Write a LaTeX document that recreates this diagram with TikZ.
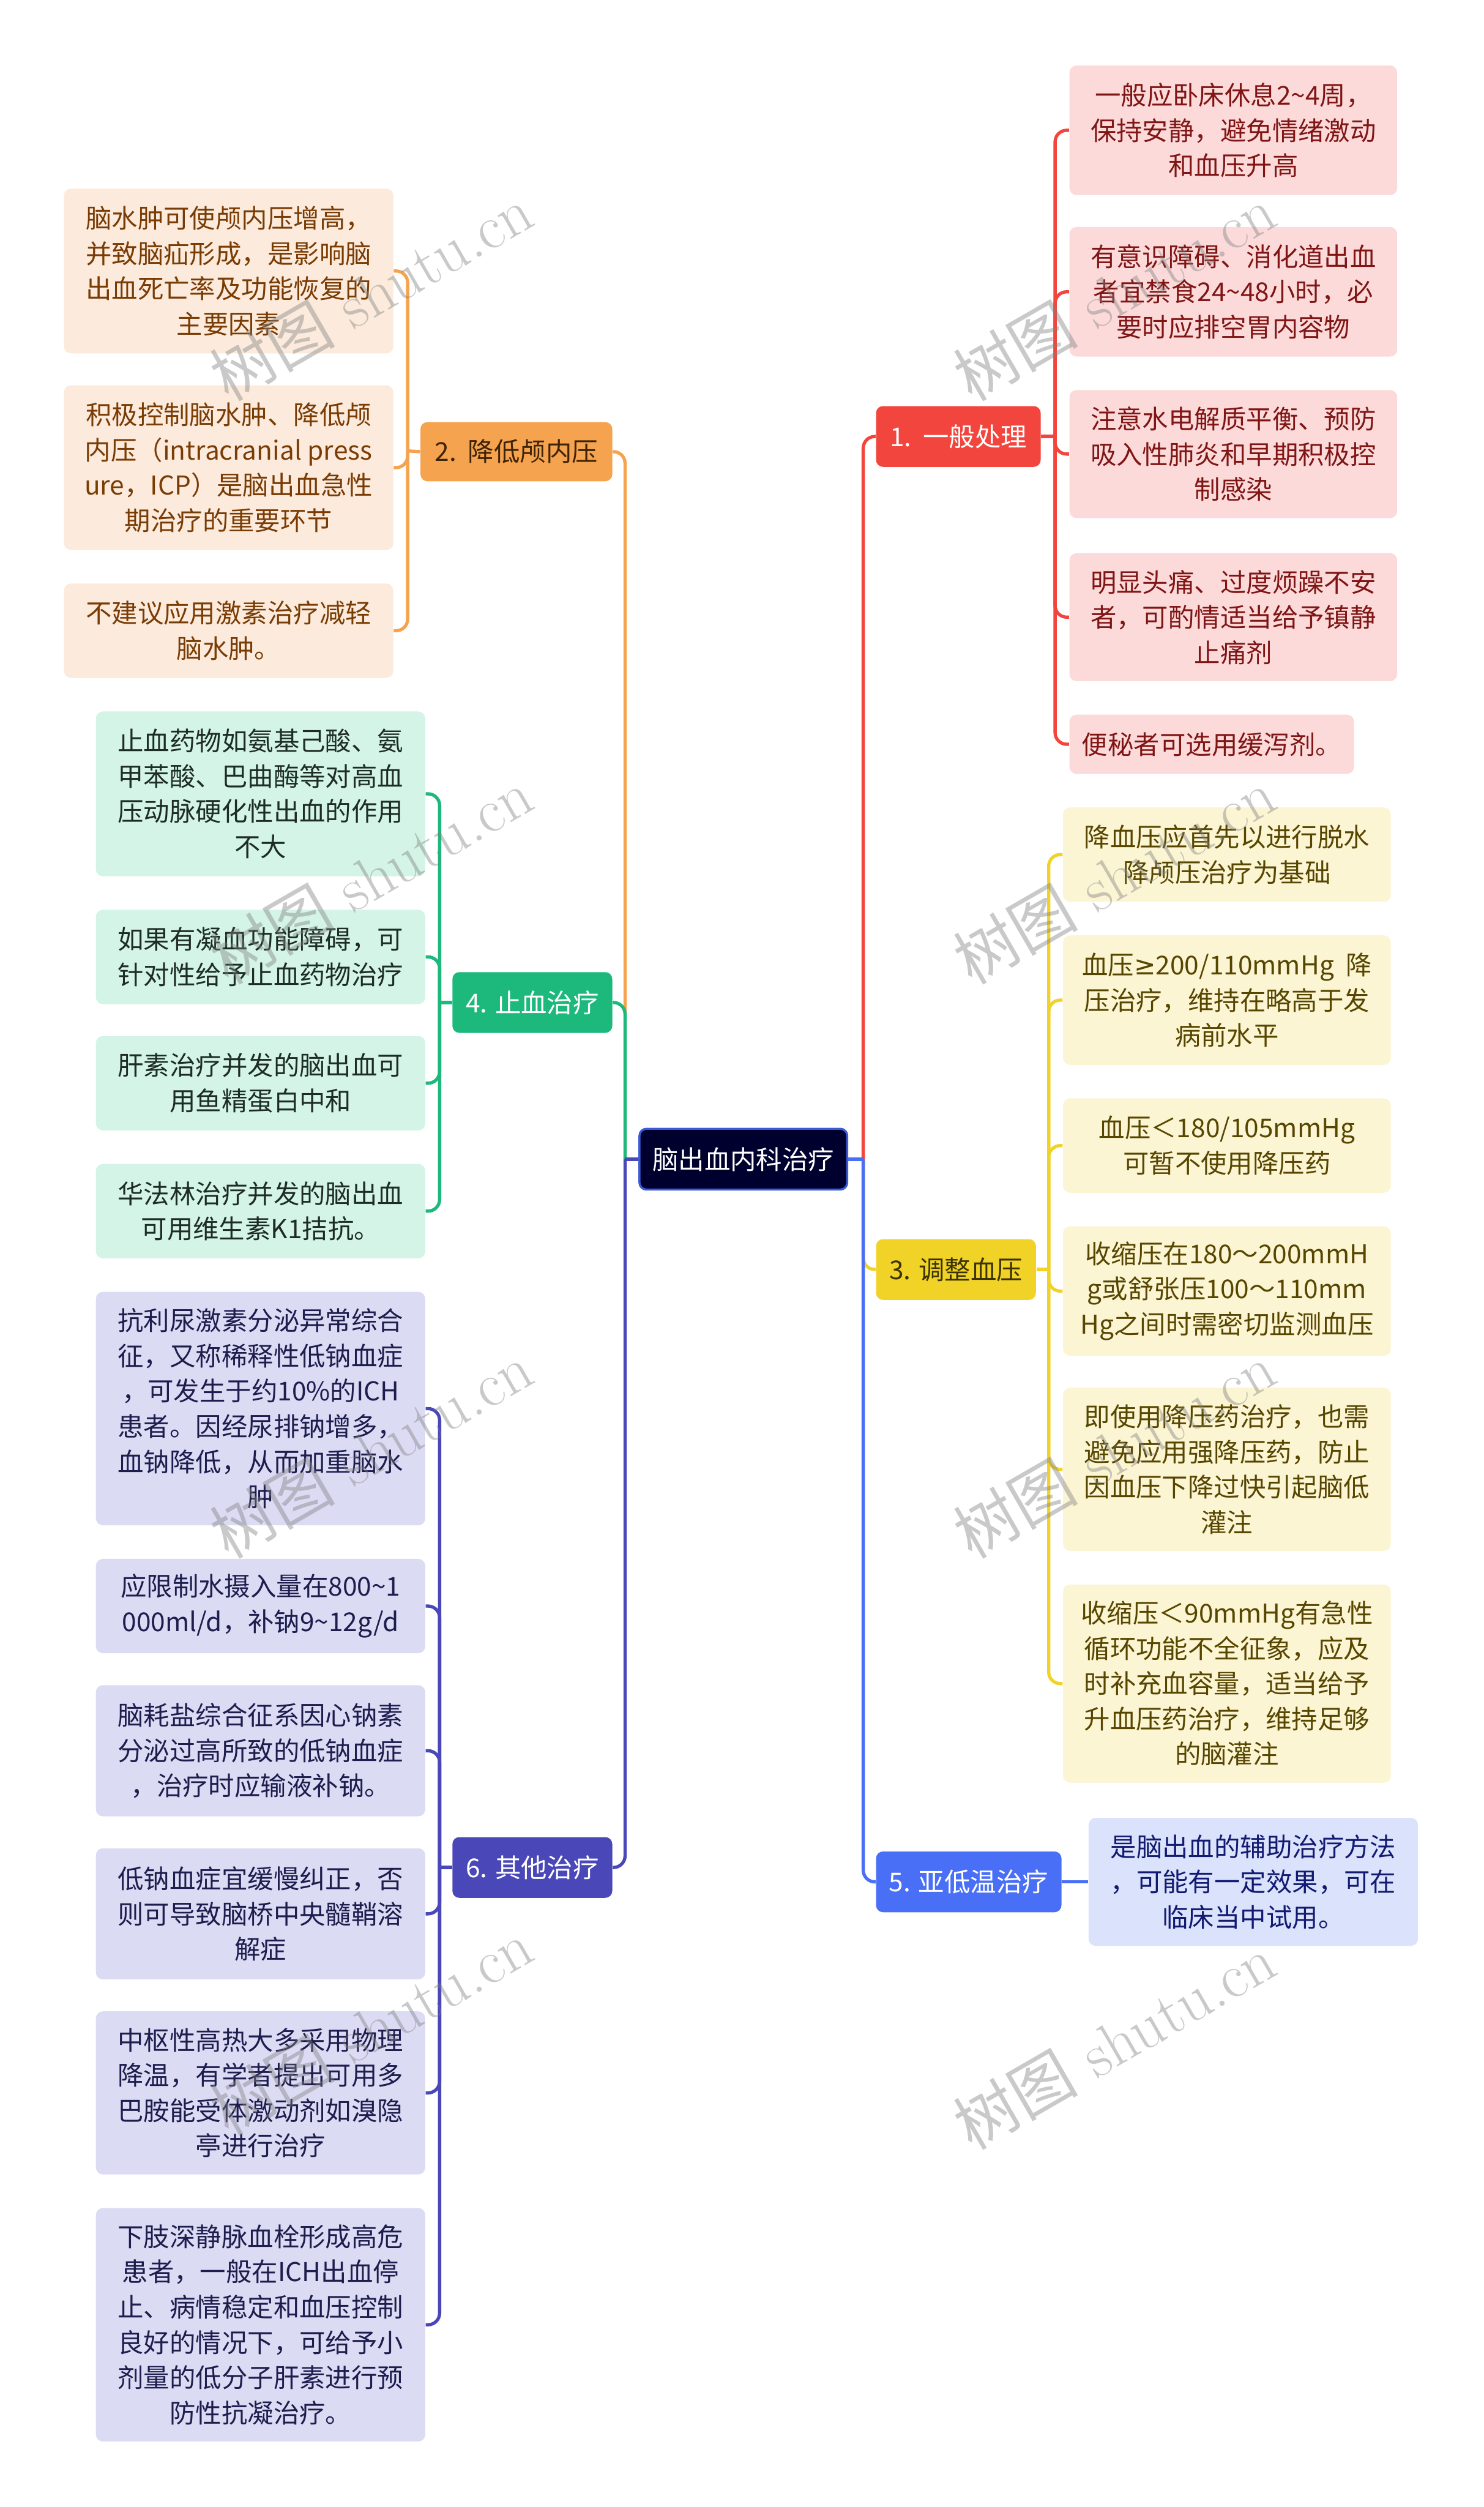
\documentclass[tikz,border=0pt]{standalone}
\usepackage{fontspec}
\newfontfamily\cjk{Noto Sans CJK SC}
\newfontfamily\djv{DejaVu Sans}
\definecolor{rootfill}{HTML}{00002E}
\definecolor{rootline}{HTML}{3A5BD8}
\definecolor{c1}{HTML}{F2453D}\definecolor{c1l}{HTML}{FCDADA}\definecolor{c1t}{HTML}{801515}
\definecolor{c2}{HTML}{F5A34F}\definecolor{c2l}{HTML}{FCEBDC}\definecolor{c2t}{HTML}{7A3C05}\definecolor{c2b}{HTML}{3F2305}
\definecolor{c3}{HTML}{F1D327}\definecolor{c3l}{HTML}{FCF5D3}\definecolor{c3t}{HTML}{574600}\definecolor{c3b}{HTML}{3A3200}
\definecolor{c4}{HTML}{1DB87B}\definecolor{c4l}{HTML}{D3F4E6}\definecolor{c4t}{HTML}{1E2C27}
\definecolor{c5}{HTML}{4A6FF7}\definecolor{c5l}{HTML}{DAE2FC}\definecolor{c5t}{HTML}{121A72}
\definecolor{c6}{HTML}{4A47B8}\definecolor{c6l}{HTML}{DCDBF4}\definecolor{c6t}{HTML}{1D1D4E}
\newcommand\mmbox[7]{%
 \pgfmathsetmacro\mmcx{(#2+#4)/2}%
 \pgfmathsetmacro\mmcy{(#3+#5)/2}%
 \pgfmathsetmacro\mmw{(#4-#2)*0.68965}%
 \pgfmathsetmacro\mmh{(#5-#3)*0.68965}%
 \node[#6, minimum width=\mmw pt, minimum height=\mmh pt] (#1) at (\mmcx,\mmcy) {#7};}
\tikzset{
 nd/.style={font=\cjk\fontsize{11.2}{15.2}\selectfont, align=center, rounded corners=3pt, inner sep=0pt},
 rootbox/.style={nd, fill=rootfill, draw=rootline, line width=0.9pt, text=white},
 br1/.style={nd, fill=c1, text=white},
 br2/.style={nd, fill=c2, text=c2b},
 br3/.style={nd, fill=c3, text=c3b},
 br4/.style={nd, fill=c4, text=white},
 br5/.style={nd, fill=c5, text=white},
 br6/.style={nd, fill=c6, text=white},
 lf1/.style={nd, fill=c1l, text=c1t},
 lf2/.style={nd, fill=c2l, text=c2t},
 lf3/.style={nd, fill=c3l, text=c3t},
 lf4/.style={nd, fill=c4l, text=c4t},
 lf5/.style={nd, fill=c5l, text=c5t},
 lf6/.style={nd, fill=c6l, text=c6t},
 ln1/.style={draw=c1, line width=1.4pt, rounded corners=5pt},
 ln2/.style={draw=c2, line width=1.4pt, rounded corners=5pt},
 ln3/.style={draw=c3, line width=1.4pt, rounded corners=5pt},
 ln4/.style={draw=c4, line width=1.4pt, rounded corners=5pt},
 ln5/.style={draw=c5, line width=1.4pt, rounded corners=5pt},
 ln6/.style={draw=c6, line width=1.4pt, rounded corners=5pt},
 wm/.style={text=black!50, opacity=0.42, rotate=30, font=\fontsize{27}{27}\selectfont, inner sep=0pt}
}
\begin{document}
\begin{tikzpicture}[x=0.68965pt,y=-0.68965pt]
\useasboundingbox (0,0) rectangle (928,1568);
\fill[white] (0,0) rectangle (928,1568);

% root
\mmbox{root}{400}{706}{530}{744}{rootbox}{脑出血内科治疗}

% branches
\mmbox{b1}{548}{254}{651}{292}{br1}{1.\ \ 一般处理}
\mmbox{b3}{548}{775}{648}{813}{br3}{3. 调整血压}
\mmbox{b5}{548}{1158}{664}{1196}{br5}{5. 亚低温治疗}
\mmbox{b2}{263}{264}{383}{301}{br2}{2.\ \ 降低颅内压}
\mmbox{b4}{283}{608}{383}{646}{br4}{4. 止血治疗}
\mmbox{b6}{283}{1149}{383}{1187}{br6}{6. 其他治疗}

% branch 1 leaves
\mmbox{l1a}{669}{41}{874}{122}{lf1}{一般应卧床休息2\textasciitilde 4周，\\保持安静，避免情绪激动\\和血压升高}
\mmbox{l1b}{669}{142}{874}{223}{lf1}{有意识障碍、消化道出血\\者宜禁食24\textasciitilde 48小时，必\\要时应排空胃内容物}
\mmbox{l1c}{669}{244}{874}{324}{lf1}{注意水电解质平衡、预防\\吸入性肺炎和早期积极控\\制感染}
\mmbox{l1d}{669}{346}{874}{426}{lf1}{明显头痛、过度烦躁不安\\者，可酌情适当给予镇静\\止痛剂}
\mmbox{l1e}{669}{447}{847}{484}{lf1}{便秘者可选用缓泻剂。}

% branch 3 leaves
\mmbox{l3a}{665}{505}{870}{564}{lf3}{降血压应首先以进行脱水\\降颅压治疗为基础}
\mmbox{l3b}{665}{585}{870}{666}{lf3}{血压{\djv ≥}200/110mmHg\ \ 降\\压治疗，维持在略高于发\\病前水平}
\mmbox{l3c}{665}{687}{870}{746}{lf3}{血压＜180/105mmHg\\可暂不使用降压药}
\mmbox{l3d}{665}{767}{870}{848}{lf3}{收缩压在180～200mmH\\g或舒张压100～110mm\\Hg之间时需密切监测血压}
\mmbox{l3e}{665}{868}{870}{970}{lf3}{即使用降压药治疗，也需\\避免应用强降压药，防止\\因血压下降过快引起脑低\\灌注}
\mmbox{l3f}{665}{991}{870}{1115}{lf3}{收缩压＜90mmHg有急性\\循环功能不全征象，应及\\时补充血容量，适当给予\\升血压药治疗，维持足够\\的脑灌注}

% branch 5 leaf
\mmbox{l5a}{681}{1137}{887}{1217}{lf5}{是脑出血的辅助治疗方法\\，可能有一定效果，可在\\临床当中试用。}

% branch 2 leaves
\mmbox{l2a}{40}{118}{246}{221}{lf2}{脑水肿可使颅内压增高，\\并致脑疝形成，是影响脑\\出血死亡率及功能恢复的\\主要因素}
\mmbox{l2b}{40}{241}{246}{344}{lf2}{积极控制脑水肿、降低颅\\内压（intracranial press\\ure，ICP）是脑出血急性\\期治疗的重要环节}
\mmbox{l2c}{40}{365}{246}{424}{lf2}{不建议应用激素治疗减轻\\脑水肿。}

% branch 4 leaves
\mmbox{l4a}{60}{445}{266}{548}{lf4}{止血药物如氨基己酸、氨\\甲苯酸、巴曲酶等对高血\\压动脉硬化性出血的作用\\不大}
\mmbox{l4b}{60}{569}{266}{628}{lf4}{如果有凝血功能障碍，可\\针对性给予止血药物治疗}
\mmbox{l4c}{60}{648}{266}{707}{lf4}{肝素治疗并发的脑出血可\\用鱼精蛋白中和}
\mmbox{l4d}{60}{728}{266}{787}{lf4}{华法林治疗并发的脑出血\\可用维生素K1拮抗。}

% branch 6 leaves
\mmbox{l6a}{60}{808}{266}{954}{lf6}{抗利尿激素分泌异常综合\\征，又称稀释性低钠血症\\，可发生于约10\%的ICH\\患者。因经尿排钠增多，\\血钠降低，从而加重脑水\\肿}
\mmbox{l6b}{60}{975}{266}{1034}{lf6}{应限制水摄入量在800\textasciitilde 1\\000ml/d，补钠9\textasciitilde 12g/d}
\mmbox{l6c}{60}{1054}{266}{1136}{lf6}{脑耗盐综合征系因心钠素\\分泌过高所致的低钠血症\\，治疗时应输液补钠。}
\mmbox{l6d}{60}{1156}{266}{1238}{lf6}{低钠血症宜缓慢纠正，否\\则可导致脑桥中央髓鞘溶\\解症}
\mmbox{l6e}{60}{1258}{266}{1360}{lf6}{中枢性高热大多采用物理\\降温，有学者提出可用多\\巴胺能受体激动剂如溴隐\\亭进行治疗}
\mmbox{l6f}{60}{1381}{266}{1527}{lf6}{下肢深静脉血栓形成高危\\患者，一般在ICH出血停\\止、病情稳定和血压控制\\良好的情况下，可给予小\\剂量的低分子肝素进行预\\防性抗凝治疗。}

% root to branches
\coordinate (jr) at (540,725);
\coordinate (jl) at (391,725);
\draw[ln3] (jr) |- (b3.west);
\draw[ln5] (jr) |- (b5.west);
\draw[ln1] (jr) |- (b1.west);
\draw[ln5, rounded corners=0pt] (root.east) -- (jr);
\draw[ln2] (jl) |- (b2.east);
\draw[ln4] (jl) |- (b4.east);
\draw[ln6] (jl) |- (b6.east);
\draw[ln6, rounded corners=0pt] (root.west) -- (jl);

% branch to leaves
\coordinate (k1) at (660,273);
\draw[ln1] (b1.east) -- (k1);
\foreach \n in {a,b,c,d,e} \draw[ln1] (k1) |- (l1\n.west);
\coordinate (k3) at (656,794);
\draw[ln3] (b3.east) -- (k3);
\foreach \n in {a,b,c,d,e,f} \draw[ln3] (k3) |- (l3\n.west);
\draw[ln5] (b5.east) -- (l5a.west);
\coordinate (k2) at (255,282);
\draw[ln2] (b2.west) -- (k2);
\foreach \n in {a,b,c} \draw[ln2] (k2) |- (l2\n.east);
\coordinate (k4) at (275,627);
\draw[ln4] (b4.west) -- (k4);
\foreach \n in {a,b,c,d} \draw[ln4] (k4) |- (l4\n.east);
\coordinate (k6) at (275,1168);
\draw[ln6] (b6.west) -- (k6);
\foreach \n in {a,b,c,d,e,f} \draw[ln6] (k6) |- (l6\n.east);

% watermarks
\foreach \wx/\wy/\wn in {232/183/w1,697/183/w2,232/548/w3,697/548/w4,232/907/w5,697/907/w6,232/1268/w7,697/1277/w8}
  \node[wm] (\wn) at (\wx,\wy) {{\cjk 树图} shutu.cn};
\end{tikzpicture}
\end{document}
